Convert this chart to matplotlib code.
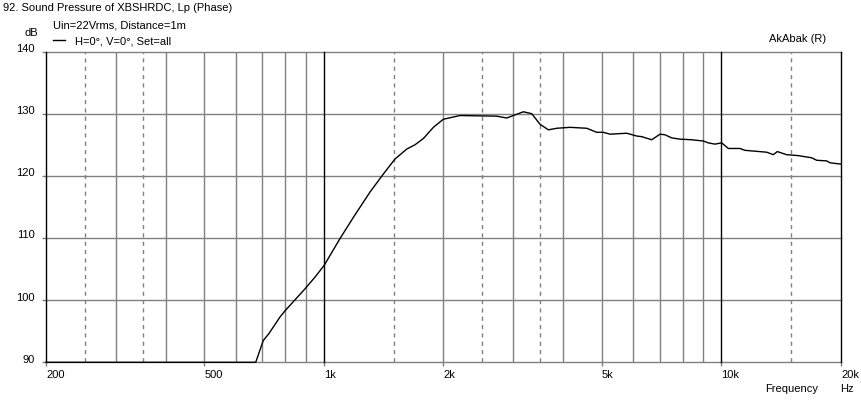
import matplotlib
matplotlib.use("Agg")
import matplotlib.pyplot as plt
import matplotlib.transforms as mtransforms
from matplotlib.lines import Line2D

# ---- data ----
freq_hz = [200, 674, 704, 727, 776, 799, 896, 950, 1002, 1098, 1186, 1307, 1412,
           1510, 1616, 1696, 1780, 1886, 1998, 2200, 2722, 2884, 3176, 3334,
           3498, 3671, 3854, 4162, 4585, 4858, 5046, 5248, 5780, 6125, 6305, 6681,
           7010, 7216, 7502, 7871, 8422, 9006, 9271, 9638, 10022, 10414, 11140,
           11470, 13006, 13512, 13830, 14602, 15616, 16878, 17374, 18408, 18764,
           19880, 20000]
spl_db = [90, 90, 93.5, 94.6, 97.3, 98.3, 101.8, 103.7, 105.6, 109.9, 113.3, 117.4,
          120.3, 122.7, 124.3, 125.0, 126.0, 127.8, 129.1, 129.7, 129.6, 129.3,
          130.3, 130.0, 128.3, 127.4, 127.65, 127.8, 127.65, 127.0, 127.0, 126.7,
          126.85, 126.4, 126.3, 125.8, 126.7, 126.6, 126.1, 125.9, 125.8, 125.6,
          125.3, 125.1, 125.3, 124.4, 124.4, 124.1, 123.8, 123.4, 123.9, 123.4,
          123.25, 122.9, 122.5, 122.4, 122.1, 121.9, 121.9]

x_tick_values = [200, 500, 1000, 2000, 5000, 10000, 20000]
x_tick_labels = ["200", "500", "1k", "2k", "5k", "10k", "20k"]
y_tick_values = [90, 100, 110, 120, 130, 140]
y_tick_labels = ["90", "100", "110", "120", "130", "140"]

grid_solid = [300, 400, 500, 600, 700, 800, 900, 2000, 3000, 4000, 5000, 6000,
              7000, 8000, 9000]
grid_dashed = [250, 350, 1500, 2500, 3500, 15000]
grid_major = [1000, 10000, 20000]

title = "92. Sound Pressure of XBSHRDC, Lp (Phase)"
subtitle = "Uin=22Vrms, Distance=1m"
legend_label = "H=0°, V=0°, Set=all"

# ---- figure ----
W, H = 862, 402
plt.rcParams['font.family'] = ['Liberation Sans', 'DejaVu Sans']
FS = 8
fig = plt.figure(figsize=(W / 100, H / 100), dpi=100)
fig.patch.set_facecolor("white")

left, right, top, bottom = 46, 841, 52.5, 363.3
ax = fig.add_axes([left / W, 1 - bottom / H, (right - left) / W, (bottom - top) / H])
ax.set_xscale("log")
ax.set_xlim(200, 20000)
ax.set_ylim(90, 140)

grey = "#808080"
for y in y_tick_values:
    ax.axhline(y, color=grey, lw=1.0, zorder=1, clip_on=False)
for f in grid_solid:
    ax.axvline(f, color=grey, lw=1.0, zorder=1)
for f in grid_dashed:
    ax.axvline(f, color=grey, lw=1.0, ls=(0, (3, 3)), zorder=1)
for f in grid_major:
    ax.axvline(f, color="black", lw=1.0, zorder=2, clip_on=False)

ax.plot(freq_hz, spl_db, color="black", lw=1.0, zorder=3, clip_on=False)

for s in ["top", "right", "bottom"]:
    ax.spines[s].set_visible(False)
ax.spines["left"].set_color("black")
ax.spines["left"].set_linewidth(1.0)

ax.set_xticks(x_tick_values)
ax.set_xticklabels(x_tick_labels, fontsize=FS)
ax.xaxis.set_minor_locator(matplotlib.ticker.NullLocator())
ax.set_yticks(y_tick_values)
ax.set_yticklabels(y_tick_labels, fontsize=FS)
ax.tick_params(axis="x", length=3, width=1, color=grey, pad=2)
ax.tick_params(axis="y", length=3, width=1, color=grey, pad=5)
for lab in ax.get_xticklabels():
    lab.set_horizontalalignment("left")
dy = mtransforms.ScaledTranslation(0, 4.5 / 100, fig.dpi_scale_trans)
for lab in ax.get_yticklabels():
    lab.set_transform(lab.get_transform() + dy)

def ftext(x, y, s, **kw):
    fig.text(x / W, 1 - y / H, s, fontsize=FS, va="center", **kw)

ftext(3, 8, title, ha="left")
ftext(53, 25, subtitle, ha="left")
ftext(75, 41, legend_label, ha="left")
fig.add_artist(Line2D([53 / W, 65 / W], [1 - 41 / H, 1 - 41 / H], color="black", lw=1.0))
ftext(38, 33, "dB", ha="right")
ftext(826, 39, "AkAbak (R)", ha="right")
ftext(818, 389, "Frequency", ha="right")
ftext(840, 389, "Hz", ha="left")

fig.savefig("out.png", dpi=100)
